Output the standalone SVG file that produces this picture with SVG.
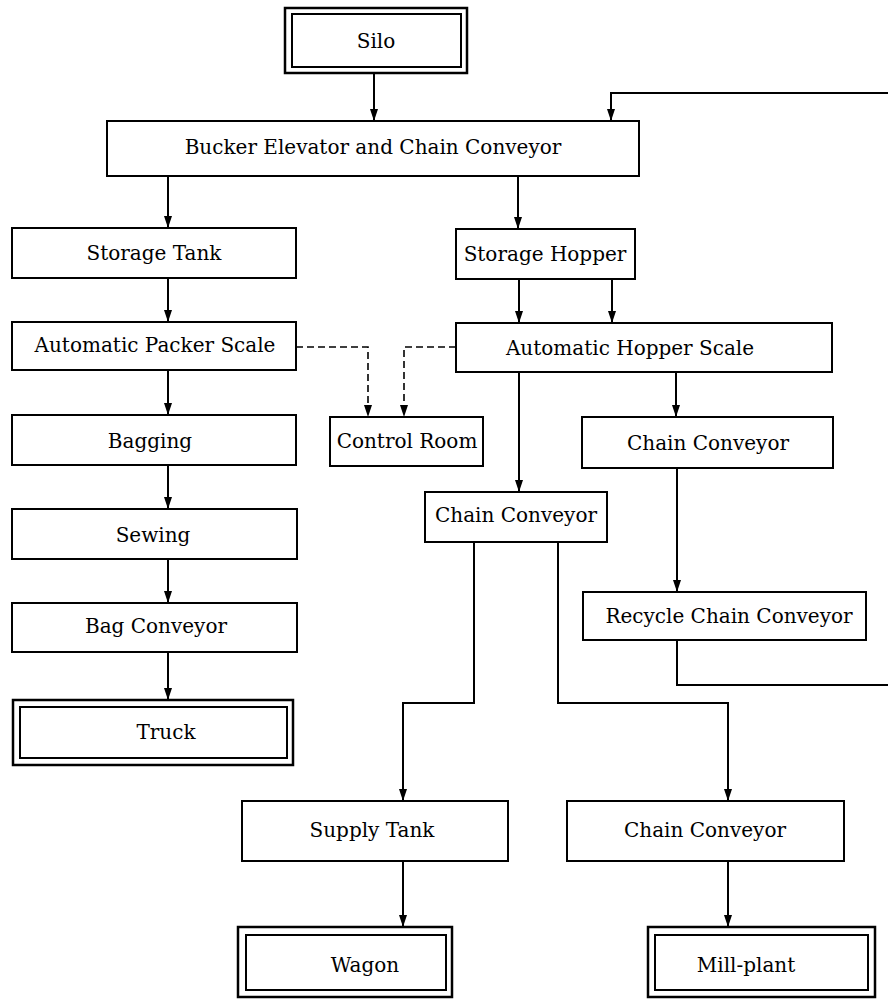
<svg xmlns="http://www.w3.org/2000/svg" width="888" height="999" viewBox="0 0 888 999">
<style>
.box{fill:#fff;stroke:#000;stroke-width:2}
.outer{fill:#fff;stroke:#000;stroke-width:2.5}
.inner{fill:none;stroke:#000;stroke-width:2}
.t{font-family:"DejaVu Serif","Liberation Serif",serif;font-size:20px;fill:#000;text-anchor:middle}
.c{fill:none;stroke:#000;stroke-width:2}
.d{fill:none;stroke:#000;stroke-width:1.6;stroke-dasharray:7,4}
</style>
<defs>
<marker id="a" markerUnits="userSpaceOnUse" markerWidth="8" markerHeight="12" refX="4" refY="12" orient="auto-start-reverse" viewBox="0 0 8 12">
<path d="M0,0 L8,0 L4,12 z" fill="#000" transform="rotate(0)"/>
</marker>
<marker id="v" markerUnits="userSpaceOnUse" markerWidth="12" markerHeight="8" refX="12" refY="4" orient="auto" viewBox="0 0 12 8">
<path d="M0,0 L12,4 L0,8 z" fill="#000"/>
</marker>
</defs>
<rect width="888" height="999" fill="#fff"/>
<g id="connectors">
<path class="c" d="M374,73 V121" marker-end="url(#v)"/>
<path class="c" d="M168,176 V228" marker-end="url(#v)"/>
<path class="c" d="M518,176 V229" marker-end="url(#v)"/>
<path class="c" d="M168,278 V322" marker-end="url(#v)"/>
<path class="c" d="M519,279 V323" marker-end="url(#v)"/>
<path class="c" d="M612,279 V323" marker-end="url(#v)"/>
<path class="c" d="M168,370 V415" marker-end="url(#v)"/>
<path class="c" d="M519,372 V492" marker-end="url(#v)"/>
<path class="c" d="M676,372 V417" marker-end="url(#v)"/>
<path class="c" d="M168,465 V509" marker-end="url(#v)"/>
<path class="c" d="M168,559 V603" marker-end="url(#v)"/>
<path class="c" d="M168,652 V700" marker-end="url(#v)"/>
<path class="c" d="M677,468 V592" marker-end="url(#v)"/>
<path class="c" d="M677,640 V685 H888"/>
<path class="c" d="M888,93 H611 V121" marker-end="url(#v)"/>
<path class="c" d="M474,542 V703 H403 V801" marker-end="url(#v)"/>
<path class="c" d="M558,542 V703 H728 V801" marker-end="url(#v)"/>
<path class="c" d="M403,861 V927" marker-end="url(#v)"/>
<path class="c" d="M728,861 V927" marker-end="url(#v)"/>
<path class="d" d="M296,347 H368 V417" marker-end="url(#v)"/>
<path class="d" d="M456,347 H404 V417" marker-end="url(#v)"/>
</g>
<g id="silo"><rect class="outer" x="285" y="8" width="182" height="65"/><rect class="inner" x="292" y="14" width="169" height="53"/><text class="t" x="376" y="48">Silo</text></g>
<g id="bucker"><rect class="box" x="107" y="121" width="532" height="55"/><text class="t" x="373" y="154">Bucker Elevator and Chain Conveyor</text></g>
<g id="storage-tank"><rect class="box" x="12" y="228" width="284" height="50"/><text class="t" x="154" y="260">Storage Tank</text></g>
<g id="storage-hopper"><rect class="box" x="456" y="229" width="179" height="50"/><text class="t" x="545" y="261">Storage Hopper</text></g>
<g id="packer-scale"><rect class="box" x="12" y="322" width="284" height="48"/><text class="t" x="155" y="352">Automatic Packer Scale</text></g>
<g id="hopper-scale"><rect class="box" x="456" y="323" width="376" height="49"/><text class="t" x="630" y="355">Automatic Hopper Scale</text></g>
<g id="control-room"><rect class="box" x="330" y="417" width="153" height="49"/><text class="t" x="407" y="448">Control Room</text></g>
<g id="bagging"><rect class="box" x="12" y="415" width="284" height="50"/><text class="t" x="150" y="448">Bagging</text></g>
<g id="chain-conveyor-r"><rect class="box" x="582" y="417" width="251" height="51"/><text class="t" x="708" y="450">Chain Conveyor</text></g>
<g id="chain-conveyor-m"><rect class="box" x="425" y="492" width="182" height="50"/><text class="t" x="516" y="522">Chain Conveyor</text></g>
<g id="sewing"><rect class="box" x="12" y="509" width="285" height="50"/><text class="t" x="153" y="542">Sewing</text></g>
<g id="bag-conveyor"><rect class="box" x="12" y="603" width="285" height="49"/><text class="t" x="156" y="633">Bag Conveyor</text></g>
<g id="recycle"><rect class="box" x="583" y="592" width="283" height="48"/><text class="t" x="729" y="623">Recycle Chain Conveyor</text></g>
<g id="truck"><rect class="outer" x="13" y="700" width="280" height="65"/><rect class="inner" x="20" y="707" width="267" height="51"/><text class="t" x="166" y="739">Truck</text></g>
<g id="supply-tank"><rect class="box" x="242" y="801" width="266" height="60"/><text class="t" x="372" y="837">Supply Tank</text></g>
<g id="chain-conveyor-b"><rect class="box" x="567" y="801" width="277" height="60"/><text class="t" x="705" y="837">Chain Conveyor</text></g>
<g id="wagon"><rect class="outer" x="238" y="927" width="214" height="70"/><rect class="inner" x="246" y="935" width="200" height="55"/><text class="t" x="365" y="972">Wagon</text></g>
<g id="mill-plant"><rect class="outer" x="648" y="927" width="227" height="70"/><rect class="inner" x="655" y="935" width="213" height="55"/><text class="t" x="746" y="972">Mill-plant</text></g>
</svg>
